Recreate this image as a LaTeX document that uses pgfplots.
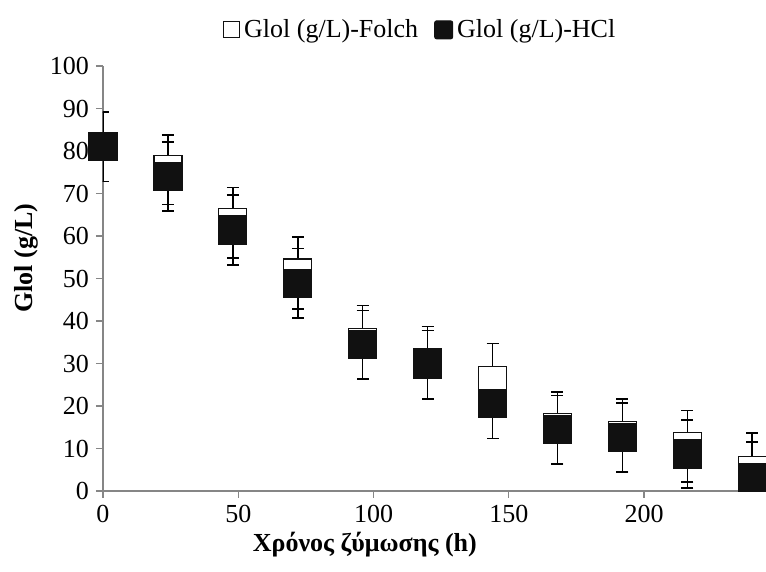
\documentclass[border=0pt]{standalone}
\usepackage{fontspec}
\setmainfont{Liberation Serif}
\usepackage{pgfplots}
\pgfplotsset{compat=1.18}
\definecolor{AxisGray}{RGB}{134,134,134}
\definecolor{MarkBlack}{RGB}{17,17,17}
\pgfplotsset{legmark/.style={legend image code/.code={%
  \draw[##1, mark size=#1] plot coordinates {(#1,0pt)};}}}
% square mark with slightly rounded corners, as Excel draws it
\pgfdeclareplotmark{rsquare*}{%
  \pgfsetcornersarced{\pgfpoint{1.6pt}{1.6pt}}%
  \pgfpathmoveto{\pgfqpoint{-\pgfplotmarksize}{-\pgfplotmarksize}}%
  \pgfpathlineto{\pgfqpoint{\pgfplotmarksize}{-\pgfplotmarksize}}%
  \pgfpathlineto{\pgfqpoint{\pgfplotmarksize}{\pgfplotmarksize}}%
  \pgfpathlineto{\pgfqpoint{-\pgfplotmarksize}{\pgfplotmarksize}}%
  \pgfpathclose
  \pgfusepathqfillstroke}

\pgfplotstableread{
t   folch  ef   hcl   eh
0   81.0   8.2  81.0  8.2
24  75.6   8.2  74.0  8.1
48  63.1   8.3  61.4  8.2
72  51.3   8.5  48.9  8.2
96  35.0   8.6  34.4  8.1
120 30.1   8.6  29.7  8.1
144 26.0   8.7  20.5  8.2
168 14.9   8.4  14.4  8.1
192 13.1   8.5  12.5  8.2
216 10.5   8.4   8.7  8.0
240  4.9   8.7   3.2  8.3
}\glol

\begin{document}
\begin{tikzpicture}
\begin{axis}[
  width=331.5pt, height=212.5pt, scale only axis,
  font=\fontsize{13}{15}\selectfont,
  xmin=0, xmax=245.1, ymin=0, ymax=100,
  xtick={0,50,100,150,200}, ytick distance=10,
  axis x line=bottom, axis y line=left,
  axis line style={-, AxisGray, line width=0.6pt},
  tick style={AxisGray, line width=0.6pt},
  tick align=outside, major tick length=3.5pt,
  /pgf/number format/assume math mode=true,
  xlabel={\bfseries Χρόνος ζύμωσης (h)},
  ylabel={\bfseries Glol (g/L)},
  xlabel style={at={(axis description cs:0.395,-0.127)}, anchor=center},
  ylabel style={at={(axis description cs:-0.115,0.548)}, anchor=center, rotate=0},
  legend columns=2,
  legend style={at={(0.48,1.085)}, anchor=center, draw=none, fill=none,
    font=\fontsize{13}{15}\selectfont,
    /tikz/every even column/.append style={column sep=6pt}},
]
% Folch markers
\addplot[only marks, mark=rsquare*, mark size=7pt,
  mark options={fill=white, draw=MarkBlack, line width=0.6pt},
  legend image code/.code={\draw[fill=white, draw=MarkBlack, line width=0.5pt] (0pt,-4pt) rectangle (8pt,4pt);}]
  table[x=t, y=folch] {\glol};
\addlegendentry{Glol (g/L)-Folch}
% Folch error bars
\addplot[draw=none, mark=none, forget plot,
  error bars/.cd, y dir=both, y explicit,
  error bar style={draw=black, line width=0.75pt},
  error mark options={draw=black, line width=0.75pt, mark size=3pt, rotate=90}]
  table[x=t, y=folch, y error=ef] {\glol};
% HCl markers
\addplot[only marks, mark=rsquare*, mark size=7pt,
  mark options={fill=MarkBlack, draw=MarkBlack, line width=0.6pt},
  legend image code/.code={\draw[fill=MarkBlack, draw=MarkBlack, line width=0.5pt, rounded corners=1pt] (0pt,-4.5pt) rectangle (9pt,4.5pt);}]
  table[x=t, y=hcl] {\glol};
\addlegendentry{Glol (g/L)-HCl}
% HCl error bars
\addplot[draw=none, mark=none, forget plot,
  error bars/.cd, y dir=both, y explicit,
  error bar style={draw=black, line width=0.75pt},
  error mark options={draw=black, line width=0.75pt, mark size=3pt, rotate=90}]
  table[x=t, y=hcl, y error=eh] {\glol};
\end{axis}
\pgfresetboundingbox
\path[use as bounding box] (-51.5pt,-40.5pt) rectangle (331.5pt,245.5pt);
\end{tikzpicture}
\end{document}
